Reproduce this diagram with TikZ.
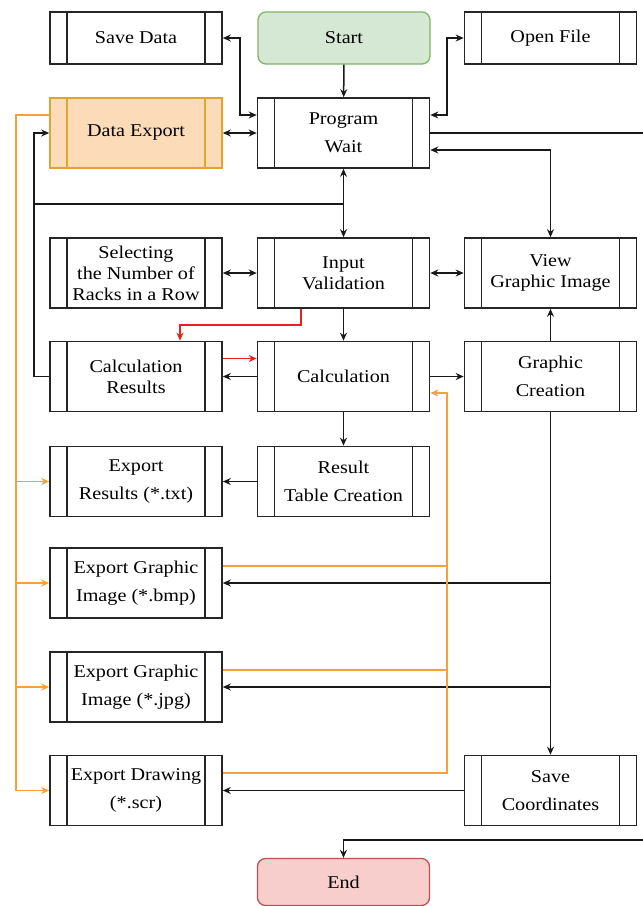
\documentclass[tikz,border=0pt]{standalone}
\usepackage{fontspec}
\setmainfont{Liberation Serif}[FakeStretch=1.12]
\usetikzlibrary{arrows.meta}
\definecolor{startfill}{HTML}{D5E8D4}
\definecolor{startdraw}{HTML}{82B366}
\definecolor{endfill}{HTML}{F8CECC}
\definecolor{enddraw}{HTML}{B85450}
\definecolor{expfill}{HTML}{FBDBB8}
\definecolor{expdraw}{HTML}{DFA52E}
\definecolor{lineorange}{HTML}{F4A13C}
\definecolor{linered}{HTML}{E8201E}

\begin{document}
\begin{tikzpicture}[x=1pt,y=-1pt,
	font=\fontsize{18}{28}\selectfont,
	tight/.style={font=\fontsize{18}{21}\selectfont},
	proc/.style={draw=black!85, line width=1.6pt, minimum width=172pt, minimum height=70pt, inner sep=0pt, align=center,
		path picture={\draw[line width=1.6pt,#1] ([xshift=17pt]path picture bounding box.north west) -- ([xshift=17pt]path picture bounding box.south west);
			\draw[line width=1.6pt,#1] ([xshift=-17pt]path picture bounding box.north east) -- ([xshift=-17pt]path picture bounding box.south east);}},
	proc/.default=black!85,
	term/.style={draw, rounded corners=8pt, line width=1.3pt, minimum width=172pt, minimum height=52pt, inner sep=0pt},
	arr/.style={line width=1.5pt, black!90, -{Stealth[length=8pt,width=7pt]}},
	darr/.style={line width=1.5pt, black!90, {Stealth[length=8pt,width=7pt]}-{Stealth[length=8pt,width=7pt]}},
	link/.style={line width=1.5pt, black!90},
	oarr/.style={line width=1.4pt, lineorange, -{Stealth[length=8pt,width=7pt]}},
	olink/.style={line width=1.4pt, lineorange},
	rarr/.style={line width=1.4pt, linered, -{Stealth[length=8pt,width=7pt]}}]
			\useasboundingbox (0,0) rectangle (643,906);
			\node[proc, minimum height=52pt] (sd) at (136,38) {Save Data};
			\node[term, fill=startfill, draw=startdraw] (start) at (344,38) {Start};
			\node[proc, minimum height=52pt] (of) at (550.5,38) {Open File};
			\node[proc=expdraw, draw=expdraw, fill=expfill] (de) at (136,133) {Data Export};
			\node[proc] (pw) at (343.5,133) {Program\\Wait};
			\node[proc, tight] (sel) at (136,273) {Selecting\\the Number of\\Racks in a Row};
			\node[proc, tight] (iv) at (343.5,273) {Input\\Validation};
			\node[proc, tight] (vg) at (550.5,273) {View\\Graphic Image};
			\node[proc, tight] (cr) at (136,376.5) {Calculation\\Results};
			\node[proc] (calc) at (343.5,376.5) {Calculation};
			\node[proc] (gc) at (550.5,376.5) {Graphic\\Creation};
			\node[proc] (er) at (136,481.5) {Export\\Results (*.txt)};
			\node[proc] (rt) at (343.5,481.5) {Result\\Table Creation};
			\node[proc] (bmp) at (136,583) {Export Graphic\\Image (*.bmp)};
			\node[proc] (jpg) at (136,687) {Export Graphic\\Image (*.jpg)};
			\node[proc] (ed) at (136,790.5) {Export Drawing\\(*.scr)};
			\node[proc] (sc) at (550.5,790.5) {Save\\Coordinates};
			\node[term, fill=endfill, draw=enddraw, minimum height=47pt] (end) at (343.5,882) {End};

			\draw[arr] (start) -- (pw);
			\draw[darr] (sd.east) -| (240,115) -- ([yshift=18pt]pw.west);
			\draw[darr] ([yshift=18pt]pw.east) -| (447,38) -- (of.west);
			\draw[darr] (de) -- (pw);
			\draw[arr] (pw.east) -- (648,133) -- (648,840) -| (end.north);
			\draw[darr] ([yshift=-17pt]pw.east) -| (vg.north);
			\draw[darr] (pw) -- (iv);
			\draw[arr] (cr.west) -| (34,133) -- (de.west);
			\draw[link] (34,204) -- (343.5,204);
			\draw[darr] (sel) -- (iv);
			\draw[darr] (iv) -- (vg);
			\draw[arr] (iv) -- (calc);
			\draw[rarr] ([xshift=-42.5pt]iv.south) -- ++(0,16) -| ([xshift=44pt]cr.north);
			\draw[rarr] ([yshift=18pt]cr.east) -- ([yshift=18pt]calc.west);
			\draw[arr] (calc) -- (cr);
			\draw[arr] (calc) -- (gc);
			\draw[arr] (gc) -- (vg);
			\draw[arr] (gc) -- (sc);
			\draw[arr] (gc.south |- bmp.east) -- (bmp.east);
			\draw[arr] (gc.south |- jpg.east) -- (jpg.east);
			\draw[arr] (sc) -- (ed);
			\draw[arr] (calc) -- (rt);
			\draw[arr] (rt) -- (er);

			\draw[oarr] ([yshift=17.5pt]ed.east) -- (447,773) -- (447,393) -- ([yshift=-16.5pt]calc.east);
			\draw[olink] ([yshift=17pt]bmp.east) -- (447,566);
			\draw[olink] ([yshift=17pt]jpg.east) -- (447,670);
			\draw[oarr] ([yshift=18pt]de.west) -- (16,115) -- (16,790.5) -- (ed.west);
			\draw[oarr] (16,481.5) -- (er.west);
			\draw[oarr] (16,583) -- (bmp.west);
			\draw[oarr] (16,687) -- (jpg.west);
\end{tikzpicture}
\end{document}
